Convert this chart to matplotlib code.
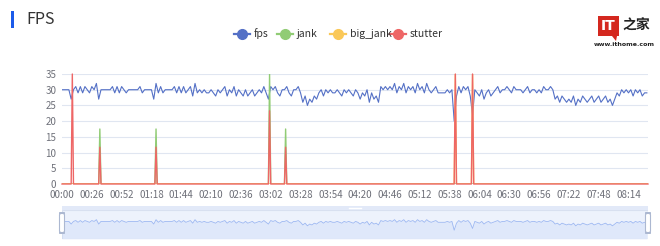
import numpy as np
import matplotlib.pyplot as plt
from matplotlib.lines import Line2D
from matplotlib.patches import Rectangle, FancyBboxPatch, Polygon

plt.rcParams['font.family'] = ['Noto Sans CJK SC', 'DejaVu Sans']

# fps sampled every 2 s, 00:00 .. 08:30
fps = [
    30, 30, 30, 30, 27, 30, 31, 29, 31, 29, 31, 30, 29,
    31, 30, 32, 27, 30, 30, 30, 30, 30, 31, 29, 31, 29,
    31, 30, 29, 30, 30, 30, 30, 30, 31, 29, 30, 30, 30,
    30, 27, 32, 29, 31, 29, 30, 30, 30, 30, 31, 29, 31,
    29, 31, 29, 30, 31, 28, 32, 29, 30, 29, 30, 29, 29,
    30, 29, 28, 30, 29, 30, 31, 28, 30, 29, 31, 28, 30,
    29, 28, 30, 28, 29, 30, 28, 29, 30, 29, 31, 29, 27,
    31, 30, 31, 29, 28, 30, 30, 31, 29, 28, 30, 30, 31,
    29, 26, 28, 25, 27, 26, 28, 27, 29, 30, 28, 30, 29,
    30, 29, 29, 30, 29, 28, 30, 29, 30, 29, 28, 30, 29,
    27, 29, 28, 30, 26, 29, 27, 28, 26, 31, 30, 31, 30,
    31, 30, 32, 29, 31, 30, 32, 29, 31, 30, 31, 29, 32,
    30, 31, 29, 32, 30, 29, 30, 31, 29, 29, 29, 29, 30,
    29, 30, 20, 28, 31, 29, 31, 30, 31, 28, 22, 30, 29,
    28, 30, 27, 29, 30, 28, 29, 30, 31, 29, 30, 30, 31,
    30, 29, 31, 30, 30, 30, 29, 30, 31, 29, 30, 30, 29,
    30, 29, 31, 30, 30, 31, 30, 27, 28, 26, 28, 27, 26,
    27, 26, 28, 25, 27, 26, 28, 27, 26, 27, 28, 26, 27,
    28, 26, 27, 28, 26, 27, 25, 27, 29, 28, 30, 29, 30,
    29, 30, 28, 30, 29, 30, 28, 29, 29,
]
fps_t = np.arange(len(fps)) * 2

# events (second of occurrence and value)
jank_t = [33, 82, 181, 195]
jank_v = [17.5, 17.5, 35, 17.5]
big_jank_t = [343, 358]
big_jank_v = [35, 35]
stutter_t = [9, 33, 82, 181, 195, 343, 358]
stutter_v = [35, 11.7, 11.7, 23.3, 11.7, 35, 35]

tick_labels = ['00:00', '00:26', '00:52', '01:18', '01:44', '02:10', '02:36',
               '03:02', '03:28', '03:54', '04:20', '04:46', '05:12', '05:38',
               '06:04', '06:30', '06:56', '07:22', '07:48', '08:14']

t_end = 511
sec = np.arange(t_end + 1)


def events(ts, vs):
    s = np.zeros(len(sec))
    s[ts] = vs
    return s


colors = {'fps': '#5470c6', 'jank': '#91cc75', 'big_jank': '#fac858', 'stutter': '#ee6666'}
label_col = '#6e7079'

fig = plt.figure(figsize=(6.6, 2.46), dpi=100)
W, H = 660, 246

ax = fig.add_axes([62 / W, (H - 184) / H, 586 / W, 110 / H])
ax.plot(fps_t, fps, color=colors['fps'], lw=0.8, zorder=3)
ax.plot(sec, events(jank_t, jank_v), color=colors['jank'], lw=1.0, zorder=4)
ax.plot(sec, events(big_jank_t, big_jank_v), color=colors['big_jank'], lw=1.0, zorder=5)
ax.plot(sec, events(stutter_t, stutter_v), color=colors['stutter'], lw=1.0, zorder=6,
        clip_on=False)

ax.set_xlim(0, t_end)
ax.set_ylim(0, 35)
ax.set_yticks(range(0, 36, 5))
ax.set_xticks(np.arange(len(tick_labels)) * 26)
ax.set_xticklabels(tick_labels)
ax.grid(axis='y', color='#e0e6f1', lw=0.8)
ax.set_axisbelow(True)
for s in ax.spines.values():
    s.set_visible(False)
ax.tick_params(length=0, labelsize=7, colors=label_col, pad=4)

# data zoom slider
sl = fig.add_axes([62 / W, (H - 239) / H, 586 / W, 29 / H])
sl.set_xlim(0, t_end)
sl.set_ylim(10, 43)
sl.add_patch(Rectangle((0, 10), t_end, 33, facecolor='#edf2fc', edgecolor='#d8e0f0', lw=0.8))
sl.plot(fps_t, fps, color='#9db8f2', lw=0.6)
sl.fill_between(fps_t, 10, fps, color='#b8cbf5', alpha=0.25, lw=0)
sl.axis('off')
top = fig.add_axes([62 / W, (H - 210) / H, 586 / W, 4 / H])
top.add_patch(Rectangle((0, 0), 1, 1, facecolor='#e2e9f8', edgecolor='none'))
top.plot([0.49, 0.51], [0.5, 0.5], color='white', lw=1)
top.set_xlim(0, 1)
top.set_ylim(0, 1)
top.axis('off')
for hx in (62, 648):
    fig.add_artist(FancyBboxPatch(((hx - 2.5) / W, (H - 233) / H), 5 / W, 20 / H,
                                  boxstyle='round,pad=0,rounding_size=0.008',
                                  transform=fig.transFigure, facecolor='white',
                                  edgecolor='#acb8d1', lw=0.8))

# title
fig.add_artist(Rectangle((11 / W, (H - 28) / H), 3 / W, 17 / H, transform=fig.transFigure,
                         facecolor='#1c5bea', edgecolor='none'))
fig.text(26 / W, (H - 19) / H, 'FPS', fontsize=11.5, color='#333333', va='center')

# legend
legend_items = [('fps', 242), ('jank', 285), ('big_jank', 338), ('stutter', 398)]
ly = (H - 34) / H
for name, cx in legend_items:
    fig.add_artist(Line2D([(cx - 8) / W, (cx + 8) / W], [ly, ly], transform=fig.transFigure,
                          color=colors[name], lw=1.6))
    fig.add_artist(Line2D([cx / W], [ly], transform=fig.transFigure, marker='o',
                          markersize=7, color=colors[name]))
    fig.text((cx + 12) / W, ly, name, fontsize=7.5, color='#333333', va='center')

# watermark
fig.add_artist(Rectangle((598 / W, (H - 36) / H), 21 / W, 20 / H, transform=fig.transFigure,
                         facecolor='#d4281f', edgecolor='none'))
fig.add_artist(Polygon([[612 / W, (H - 36) / H], [617 / W, (H - 36) / H],
                        [616 / W, (H - 41) / H]], closed=True, transform=fig.transFigure,
                       facecolor='#d4281f', edgecolor='none'))
fig.text(608.5 / W, (H - 26) / H, 'IT', fontsize=10, fontweight='bold', color='white',
         ha='center', va='center', family='DejaVu Sans')
fig.text(622 / W, (H - 26) / H, '之家', fontsize=10, fontweight='bold', color='#222222',
         va='center')
fig.text(624 / W, (H - 44) / H, 'www.ithome.com', fontsize=4.5, fontweight='bold',
         color='#222222', ha='center', va='center', family='DejaVu Sans')

fig.savefig('out.png', dpi=100)
